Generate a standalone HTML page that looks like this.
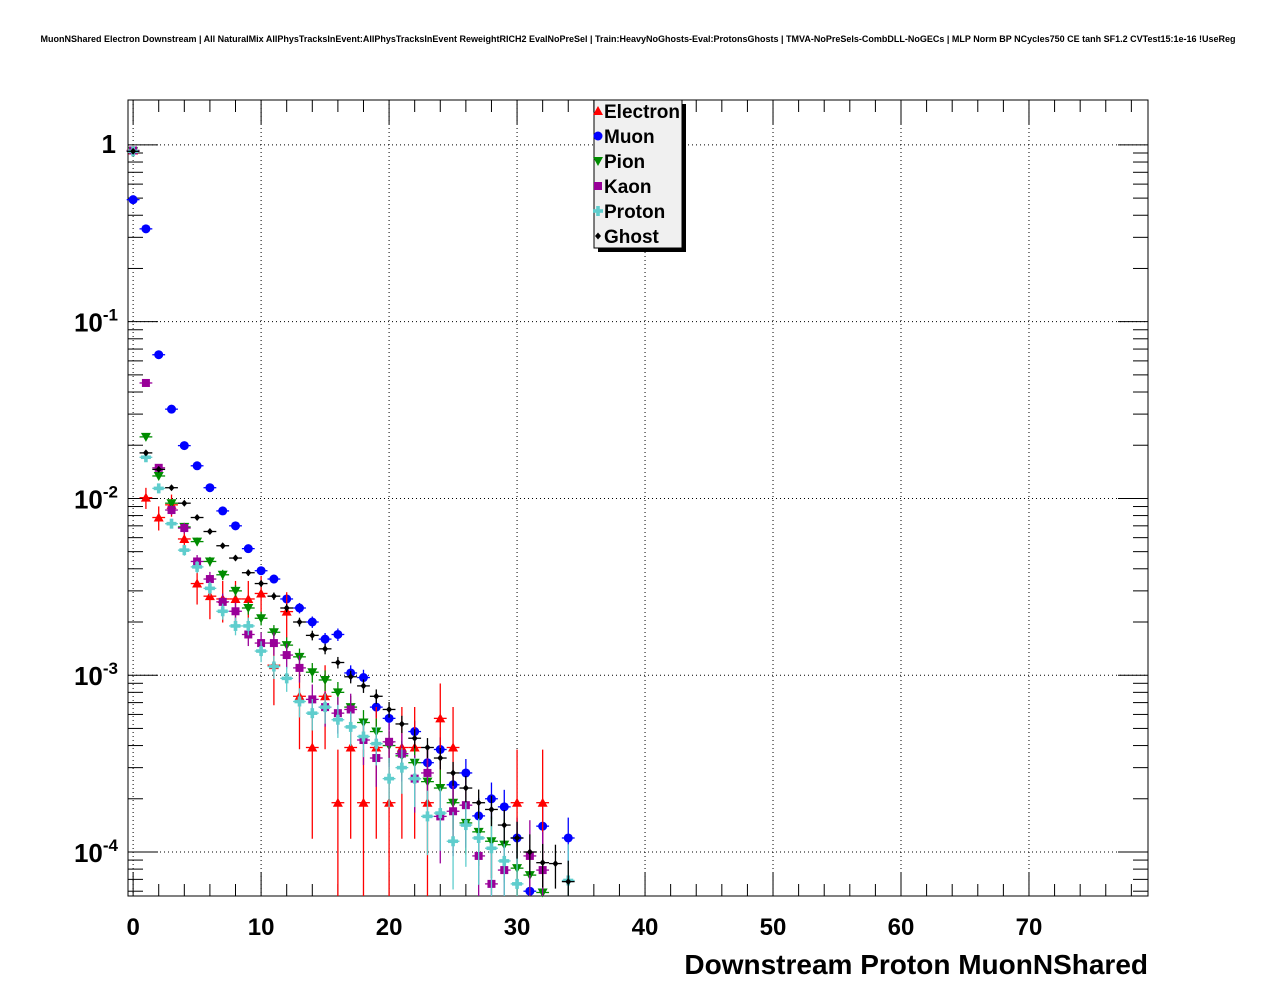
<!DOCTYPE html>
<html><head><meta charset="utf-8"><style>
body{margin:0;background:#fff;font-family:"Liberation Sans",sans-serif}
svg{display:block}
</style></head><body>
<svg id="c" width="1276" height="996" xmlns="http://www.w3.org/2000/svg">
<rect width="1276" height="996" fill="#fff"/>
<text x="638" y="42" text-anchor="middle" font-size="9.0" font-weight="bold" font-family="Liberation Sans,sans-serif">MuonNShared Electron Downstream | All NaturalMix AllPhysTracksInEvent:AllPhysTracksInEvent ReweightRICH2 EvalNoPreSel | Train:HeavyNoGhosts-Eval:ProtonsGhosts | TMVA-NoPreSels-CombDLL-NoGECs | MLP Norm BP NCycles750 CE tanh SF1.2 CVTest15:1e-16 !UseReg</text>
<g id="grid"></g>
<g id="axes"></g>
<g id="marks"></g>
<g id="legend"></g>
<text x="1148" y="974" text-anchor="end" font-size="28" font-weight="bold">Downstream Proton MuonNShared</text>
</svg>
<script>
const seriesNames = ["Electron","Muon","Pion","Kaon","Proton","Ghost"];
const electron = [0.93,0.0101,0.0078,0.0092,0.0059,0.0033,0.0028,0.0027,0.0027,0.0027,0.0029,0.00114,0.00229,0.00076,0.00039,0.00076,0.00019,0.00039,0.00019,0.00039,0.00019,0.00039,0.00039,0.00019,0.00057,0.00039,null,null,null,null,0.00019,null,0.00019];
const muon = [0.49,0.335,0.065,0.032,0.0199,0.0153,0.0115,0.0085,0.0070,0.0052,0.0039,0.0035,0.0027,0.0024,0.0020,0.0016,0.0017,0.00103,0.00097,0.00066,0.00057,0.00036,0.00048,0.00032,0.00038,0.00024,0.00028,0.00016,0.0002,0.00018,0.00012,0.00006,0.00014,null,0.00012];
const pion = [0.92,0.0223,0.0134,0.0094,0.0069,0.0057,0.0044,0.0037,0.0030,0.0024,0.0021,0.00175,0.00148,0.00127,0.00104,0.00094,0.00080,0.00066,0.00054,0.00048,0.00040,0.00035,0.00032,0.00025,0.00023,0.00019,0.000146,0.00013,0.000115,0.00011,0.000081,0.000074,0.000059];
const kaon = [0.93,0.045,0.0149,0.0086,0.0068,0.0044,0.0035,0.0026,0.0023,0.0017,0.00152,0.00152,0.0013,0.0011,0.00073,0.00066,0.00061,0.00064,0.00043,0.00034,0.00042,0.00036,0.00026,0.00028,0.000159,0.00017,0.000184,0.000095,0.000066,0.000079,null,0.000095,0.000079];
const proton = [0.92,0.0171,0.0114,0.0072,0.0051,0.0041,0.0031,0.0023,0.0019,0.0019,0.00137,0.00112,0.00096,0.00071,0.00061,0.00066,0.00056,0.00051,0.00045,0.00041,0.00026,0.0003,0.00026,0.000159,0.000166,0.000115,0.000142,0.00012,0.000105,0.000089,0.000066,null,null,null,0.000069];
const ghost = [0.92,0.0181,0.0146,0.0115,0.0094,0.0078,0.0065,0.0054,0.0046,0.0038,0.0033,0.0028,0.0024,0.002,0.00168,0.00141,0.00118,0.00098,0.00087,0.00076,0.00064,0.00053,0.00044,0.00039,0.00034,0.00028,0.00023,0.00019,0.000174,0.000142,0.00012,0.0001,0.000087,0.000086,0.000068];
const eventCounts = [5300,90000,60000,30000,40000,150000];
const xTicks = [0,10,20,30,40,50,60,70];
const yDecades = [-4,-3,-2,-1,0];

const NS="http://www.w3.org/2000/svg";
const L=128,R=1148,T=100,B=896, XMIN=-0.4, XMAX=79.3, LMIN=-4.249, LMAX=0.254;
const sx=v=>L+(v-XMIN)/(XMAX-XMIN)*(R-L);
const sy=v=>B-(Math.log10(v)-LMIN)/(LMAX-LMIN)*(B-T);
function el(tag,attrs,parent){const e=document.createElementNS(NS,tag);for(const k in attrs)e.setAttribute(k,attrs[k]);parent.appendChild(e);return e;}
const grid=document.getElementById('grid'),axes=document.getElementById('axes'),marks=document.getElementById('marks'),leg=document.getElementById('legend');
xTicks.forEach(t=>{if(t===0)return;const g=el('line',{x1:sx(t),x2:sx(t),y1:T,y2:B,stroke:'#000','stroke-width':1,'stroke-dasharray':'1,3'},grid);

});
yDecades.forEach(d=>{const y=sy(Math.pow(10,d));const g=el('line',{x1:L,x2:R,y1:y,y2:y,stroke:'#000','stroke-width':1,'stroke-dasharray':'1,3'},grid);

});
el('line',{x1:sx(0),x2:sx(0),y1:T,y2:B,stroke:'#000','stroke-dasharray':'1,3'},grid);
const fr=el('rect',{x:L,y:T,width:R-L,height:B-T,fill:'none',stroke:'#000','stroke-width':1},axes);


for(let v=0;v<=78;v+=2){const big=v%10===0;const x=sx(v);const h=big?24:12;
el('line',{x1:x,x2:x,y1:B,y2:B-h,stroke:'#000'},axes);el('line',{x1:x,x2:x,y1:T,y2:T+h,stroke:'#000'},axes);}
xTicks.forEach(t=>{const tx=el('text',{x:sx(t),y:935,'text-anchor':'middle','font-size':24,'font-weight':'bold'},axes);tx.textContent=t;

});
for(let d=-5;d<=0;d++){for(let m=1;m<=9;m++){const v=m*Math.pow(10,d);if(Math.log10(v)<LMIN||Math.log10(v)>LMAX)continue;const y=sy(v);const h=m===1?30:15;
el('line',{x1:L,x2:L+h,y1:y,y2:y,stroke:'#000'},axes);el('line',{x1:R,x2:R-h,y1:y,y2:y,stroke:'#000'},axes);}}
yDecades.forEach(d=>{const y=sy(Math.pow(10,d));const tx=el('text',{x:d===0?116:118,y:d===0?y+8:y+10,'text-anchor':'end','font-size':26,'font-weight':'bold'},axes);


if(d===0){tx.textContent='1';}else{tx.textContent='10';const s=el('tspan',{'font-size':17,dy:-11},tx);s.textContent=String(d);}});
const colors=['#ff0000','#0000ff','#008c00','#990099','#5fcdcd','#000000'];
const data=[electron,muon,pion,kaon,proton,ghost];
function marker(i,x,y,g){const c=colors[i];
if(i===0)el('polygon',{points:`${x},${y-5} ${x-5},${y+4} ${x+5},${y+4}`,fill:c},g);
else if(i===1)el('circle',{cx:x,cy:y,r:4.5,fill:c},g);
else if(i===2)el('polygon',{points:`${x-5},${y-4} ${x+5},${y-4} ${x},${y+5}`,fill:c},g);
else if(i===3)el('rect',{x:x-4,y:y-4,width:8,height:8,fill:c},g);
else if(i===4){el('rect',{x:x-5,y:y-1.8,width:10,height:3.6,fill:c},g);el('rect',{x:x-1.8,y:y-5,width:3.6,height:10,fill:c},g);}
else el('polygon',{points:`${x},${y-3.5} ${x+3},${y} ${x},${y+3.5} ${x-3},${y}`,fill:c},g);}
[1,0,2,3,4,5].forEach(i=>{const g=el('g',{},marks);


data[i].forEach((v,k)=>{if(v==null)return;const x=sx(k),y=sy(v);
const err=Math.sqrt(v/eventCounts[i]);const hi=v+err,lo=v-err;
const yh=Math.max(T,sy(hi)),yl=lo>0?Math.min(B,sy(lo)):B;
el('line',{x1:x,x2:x,y1:yh,y2:yl,stroke:colors[i],'stroke-width':1.3},g);
el('line',{x1:sx(k-0.5),x2:sx(k+0.5),y1:y,y2:y,stroke:colors[i],'stroke-width':1.3},g);
marker(i,x,y,g);});});
el('rect',{x:598,y:104,width:88,height:148,fill:'#000'},leg);
el('rect',{x:594,y:100,width:88,height:148,fill:'#f0f0f0',stroke:'#000'},leg);
seriesNames.forEach((n,i)=>{const y=111+25*i;const g=el('g',{},leg);


marker(i,598,y,g);const t=el('text',{x:604,y:y+7,'font-size':19,'font-weight':'bold'},g);t.textContent=n;});
</script>
</body></html>
